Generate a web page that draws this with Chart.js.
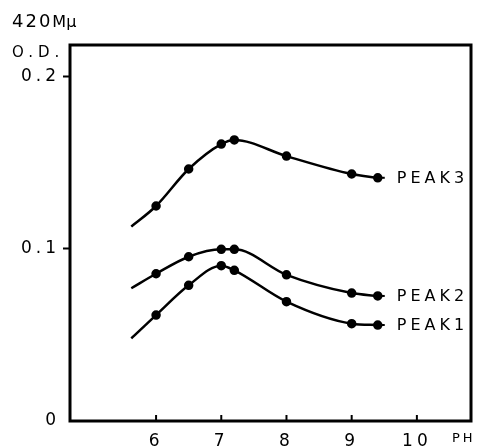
<!DOCTYPE html>
<html>
<head>
<meta charset="utf-8">
<script src="https://cdn.jsdelivr.net/npm/chart.js@4.4.0/dist/chart.umd.min.js"></script>
<style>
  html, body { margin: 0; padding: 0; background: #fff; }
  #wrap { width: 477px; height: 446px; }
</style>
</head>
<body>
<div id="wrap"><canvas id="grafico"></canvas></div>
<script>
// valores
const phValores = [5.62, 6.0, 6.5, 7.0, 7.2, 8.0, 9.0, 9.4];
const pico3 = [0.113, 0.125, 0.1465, 0.161, 0.1634, 0.154, 0.1436, 0.1414];
const pico2 = [0.0772, 0.0856, 0.0955, 0.0998, 0.0998, 0.085, 0.0744, 0.0727];
const pico1 = [0.048, 0.0616, 0.0789, 0.0903, 0.0876, 0.0694, 0.0566, 0.0558];
const etiquetas = ['PEAK3', 'PEAK2', 'PEAK1'];
const ticksX = [6, 7, 8, 9, 10];
const ticksY = [0, 0.1, 0.2];

const fuente = '"DejaVu Sans", sans-serif';

function serie(nombre, valores) {
    return {
        label: nombre,
        data: phValores.map((x, i) => ({ x: x, y: valores[i] })),
        borderColor: '#000',
        backgroundColor: '#000',
        borderWidth: 2.5,
        pointRadius: phValores.map((x, i) => i === 0 ? 0 : 3.5),
        pointHoverRadius: 0,
        cubicInterpolationMode: 'monotone'
    };
}

// marco, ticks interiores y textos sueltos
const extras = {
    id: 'extras',
    beforeDraw(chart) { chart.ctx.letterSpacing = '4px'; },
    afterDraw(chart) {
        const ctx = chart.ctx;
        const a = chart.chartArea;
        const sx = chart.scales.x;
        ctx.save();
        ctx.letterSpacing = '0px';
        ctx.strokeStyle = '#000';
        ctx.lineWidth = 3;
        ctx.strokeRect(a.left, a.top, a.right - a.left, a.bottom - a.top);
        ctx.lineWidth = 2;
        ticksX.forEach(v => {
            const px = sx.getPixelForValue(v);
            ctx.beginPath();
            ctx.moveTo(px, a.bottom);
            ctx.lineTo(px, a.bottom - 6);
            ctx.stroke();
        });
        ctx.fillStyle = '#000';
        ctx.textBaseline = 'middle';
        ctx.textAlign = 'left';
        // etiquetas de las curvas
        ctx.font = '16px ' + fuente;
        ctx.letterSpacing = '4px';
        chart.data.datasets.forEach((ds, i) => {
            const meta = chart.getDatasetMeta(i);
            const p = meta.data[meta.data.length - 1];
            ctx.lineWidth = 2;
            ctx.beginPath();
            ctx.moveTo(p.x, p.y);
            ctx.lineTo(p.x + 7, p.y);
            ctx.stroke();
            ctx.fillText(etiquetas[i], p.x + 19, p.y + 1);
        });
        // títulos del eje
        ctx.font = '18px ' + fuente;
        ctx.letterSpacing = '2px';
        ctx.fillText('420', 12, 22);
        const w = ctx.measureText('420').width;
        ctx.font = '16px ' + fuente;
        ctx.letterSpacing = '0px';
        ctx.fillText('Mμ', 12 + w, 23);
        ctx.font = '15px ' + fuente;
        ctx.letterSpacing = '5px';
        ctx.fillText('O.D.', 12, 53);
        ctx.font = '13px ' + fuente;
        ctx.letterSpacing = '3px';
        ctx.fillText('PH', 452, 439);
        ctx.restore();
        ctx.letterSpacing = '0px';
    }
};

new Chart(document.getElementById('grafico'), {
    type: 'line',
    data: { datasets: [serie('PEAK3', pico3), serie('PEAK2', pico2), serie('PEAK1', pico1)] },
    plugins: [extras],
    options: {
        responsive: true,
        maintainAspectRatio: false,
        animation: false,
        events: [],
        layout: { padding: { top: 45, right: 6, left: 0, bottom: 0 } },
        plugins: { legend: { display: false }, tooltip: { enabled: false } },
        scales: {
            x: {
                type: 'linear',
                min: 4.68,
                max: 10.83,
                afterBuildTicks: s => { s.ticks = ticksX.map(v => ({ value: v })); },
                afterFit: s => { s.height = 25; },
                border: { display: false },
                grid: { drawOnChartArea: false, drawTicks: false },
                ticks: { color: '#000', padding: 10, font: { family: fuente, size: 17 } }
            },
            y: {
                min: 0,
                max: 0.2186,
                afterBuildTicks: s => { s.ticks = ticksY.map(v => ({ value: v })); },
                afterFit: s => { s.width = 70; },
                border: { display: false },
                grid: {
                    drawOnChartArea: false,
                    tickLength: 7,
                    tickWidth: 2,
                    tickColor: c => c.tick && c.tick.value === 0 ? 'rgba(0,0,0,0)' : '#000'
                },
                ticks: {
                    color: '#000',
                    padding: 3,
                    font: { family: fuente, size: 17 },
                    callback: v => v === 0 ? '0' : v.toFixed(1)
                }
            }
        }
    }
});
</script>
</body>
</html>
